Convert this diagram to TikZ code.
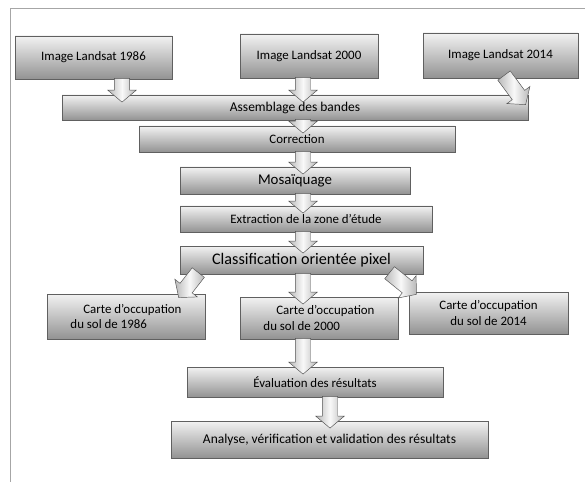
\documentclass[tikz,border=0pt]{standalone}
\usepackage{fontspec}
\setmainfont{Carlito}
\usetikzlibrary{shapes.arrows,shadows,calc}
\tikzset{
  stepbox/.style ={draw=gray!75!black,top color=gray!10,bottom color=gray!85,inner sep=0pt,
                   drop shadow={opacity=0.35,shadow xshift=1.2pt,shadow yshift=-1.2pt},
                   font=\fontsize{11}{13}\selectfont},
  boxsize/.style 2 args={minimum width=#1*0.03cm,minimum height=#2*0.03cm},
  blkarrow/.style={single arrow,draw=gray!65!black,left color=gray!55,right color=gray!55,middle color=gray!5,
                   inner xsep=0pt,inner ysep=6.4pt,
                   single arrow head extend=5.6pt,single arrow tip angle=100,minimum width=0pt},
}
% block arrow from #1 to #2 (a little overlap on both boxes)
\newcommand{\blk}[2]{%
  \path let \p1=(#1), \p2=(#2), \n1={veclen(\x2-\x1,\y2-\y1)} in
    (\p1) -- (\p2) node[blkarrow,midway,sloped,allow upside down,minimum height=\n1+7pt]{};}

\begin{document}
\begin{tikzpicture}[x=0.03cm,y=-0.03cm]
  \useasboundingbox (0,0) rectangle (585,482);
  \draw[gray!70,line width=0.8pt] (585,8) -- (10,8) -- (10,482);
  % the three images
  \node[stepbox,boxsize={157}{43}] (img86) at (93.5,57.5) {Image Landsat 1986};
  \node[stepbox,boxsize={138}{44}] (img00) at (309,56)    {Image Landsat 2000};
  \node[stepbox,boxsize={155}{45}] (img14) at (500.5,55.5){Image Landsat 2014};
  % treatment chain
  \node[stepbox,boxsize={466}{25},font=\fontsize{11.5}{13}\selectfont] (assem) at (295,107.5) {Assemblage des bandes};
  \node[stepbox,boxsize={316}{26}] (corr) at (297,139) {Correction};
  \node[stepbox,boxsize={230}{27},font=\fontsize{12.7}{14}\selectfont] (mosa) at (295,180.5) {Mosaïquage};
  \node[stepbox,boxsize={252}{26}] (extr) at (306,219) {Extraction de la zone d’étude};
  \node[stepbox,boxsize={243}{28},font=\fontsize{13.8}{16}\selectfont] (classif) at (301.5,260) {Classification orientée pixel};
  % maps
  \node[stepbox,boxsize={158}{45},align=left] (carte86) at (126,316.5) {\hspace*{1em}Carte d’occupation\\du sol de 1986};
  \node[stepbox,boxsize={158}{42},align=left] (carte00) at (319,318) {\hspace*{1em}Carte d’occupation\\du sol de 2000};
  \node[stepbox,boxsize={159}{42},align=center] (carte14) at (488.5,313) {Carte d’occupation\\du sol de 2014};
  % results
  \node[stepbox,boxsize={256}{30}] (eval) at (315,382) {Évaluation des résultats};
  \node[stepbox,boxsize={317}{37},font=\fontsize{11.5}{13}\selectfont] (analyse) at (329.5,439.5) {Analyse, vérification et validation des résultats};
  % arrow columns
  \coordinate (x86) at (122,0);
  \coordinate (col) at (303,0);
  \coordinate (colB) at (330,0);
  \blk{img86.south -| x86}{assem.north -| x86}
  \blk{img00.south -| col}{assem.north -| col}
  \blk{$(img14.south)+(4,-2)$}{$(assem.north east)+(-7,4)$}
  \blk{assem.south -| col}{corr.north -| col}
  \blk{corr.south -| col}{mosa.north -| col}
  \blk{mosa.south -| col}{extr.north -| col}
  \blk{extr.south -| col}{classif.north -| col}
  \blk{$(classif.south west)+(18,-1)$}{$(carte86.north east)+(-22,-2)$}
  \blk{classif.south -| col}{carte00.north -| col}
  \blk{$(classif.south east)+(-33,-1)$}{$(carte14.north west)+(2,-2)$}
  \blk{carte00.south -| col}{eval.north -| col}
  \blk{eval.south -| colB}{analyse.north -| colB}
\end{tikzpicture}
\end{document}
